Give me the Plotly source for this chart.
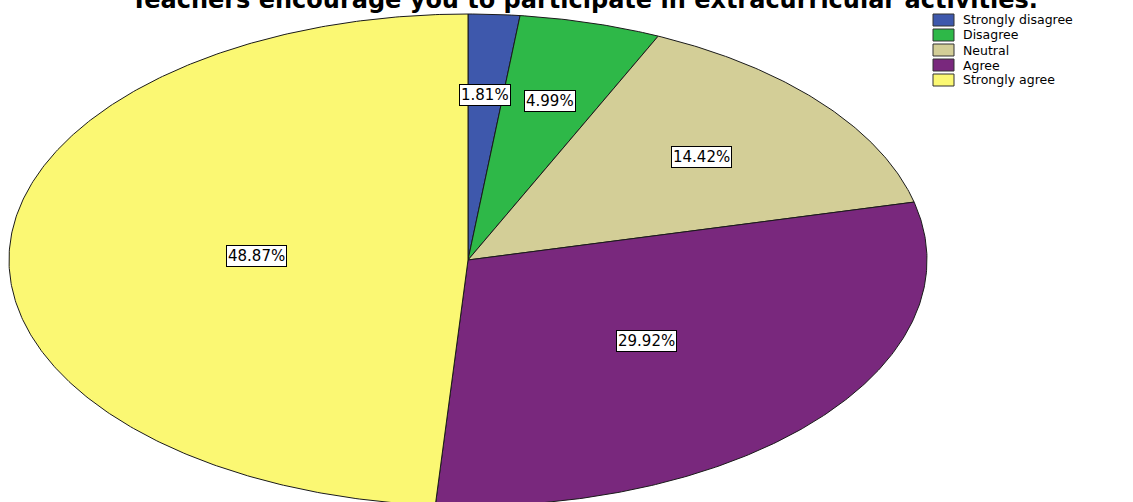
import numpy as np
import plotly.graph_objects as go

# ---- data ----
categories = ["Strongly disagree", "Disagree", "Neutral", "Agree", "Strongly agree"]
percentages = [1.81, 4.99, 14.42, 29.92, 48.87]
title_text = "Teachers encourage you to participate in extracurricular activities."

# ---- style / layout constants ----
colors = ["#3E58AC", "#2EB848", "#D3CE97", "#79287D", "#FBF873"]
label_r = [0.67, 0.67, 0.66, 0.51, 0.46]  # radial fraction for percentage labels

W, H = 1133, 502
CX, CY = 468, 260      # pie centre in pixels
RX, RY = 459, 246      # pie radii in pixels (stretched ellipse)


def px_x(p):
    return p / W


def px_y(p):
    return 1 - p / H


fig = go.Figure()

total = sum(percentages)
start = 0.0
mids = []
for cat, val, col in zip(categories, percentages, colors):
    frac = val / total
    a0, a1 = start * 2 * np.pi, (start + frac) * 2 * np.pi
    n = max(int(frac * 720), 4)
    t = np.linspace(a0, a1, n)
    xs = np.concatenate([[0], np.sin(t), [0]])
    ys = np.concatenate([[0], np.cos(t), [0]])
    fig.add_trace(go.Scatter(
        x=xs, y=ys, mode="lines", fill="toself", fillcolor=col,
        line=dict(color="#1a1a1a", width=1), name=cat,
        hoverinfo="text", text=f"{cat}: {val:.2f}%", showlegend=False,
    ))
    mids.append((a0 + a1) / 2)
    start += frac

# percentage labels
for val, m, r in zip(percentages, mids, label_r):
    fig.add_annotation(
        x=r * np.sin(m), y=r * np.cos(m), xref="x", yref="y",
        text=f"{val:.2f}%", showarrow=False,
        font=dict(family="DejaVu Sans", size=15, color="black"),
        bgcolor="white", bordercolor="black", borderwidth=1, borderpad=1,
    )

# title (partly cut off at top, like the reference)
fig.add_annotation(
    x=px_x(584), y=px_y(16), xref="paper", yref="paper",
    xanchor="center", yanchor="bottom", showarrow=False,
    text=f"<b>{title_text}</b>",
    font=dict(family="DejaVu Sans", size=24, color="black"),
)

# legend (manual, SPSS style)
LX, LY0, LDY = 933, 20, 15
for i, (cat, col) in enumerate(zip(categories, colors)):
    yc = LY0 + i * LDY
    fig.add_shape(
        type="rect", xref="paper", yref="paper",
        x0=px_x(LX), x1=px_x(LX + 21), y0=px_y(yc - 6), y1=px_y(yc + 6),
        fillcolor=col, line=dict(color="#333333", width=1),
    )
    fig.add_annotation(
        x=px_x(LX + 29), y=px_y(yc), xref="paper", yref="paper",
        xanchor="left", yanchor="middle", showarrow=False, text=cat,
        font=dict(family="DejaVu Sans", size=12.5, color="black"),
        borderpad=0,
    )

fig.update_layout(
    width=W, height=H,
    margin=dict(l=0, r=0, t=0, b=0),
    paper_bgcolor="white", plot_bgcolor="white",
    showlegend=False,
    xaxis=dict(range=[-CX / RX, (W - CX) / RX], visible=False, fixedrange=True),
    yaxis=dict(range=[-(H - CY) / RY, CY / RY], visible=False, fixedrange=True),
)

fig.write_html(
    "out.html",
    config={"displayModeBar": False},
    post_script="document.body.style.margin='0';document.body.style.overflow='hidden';",
)
